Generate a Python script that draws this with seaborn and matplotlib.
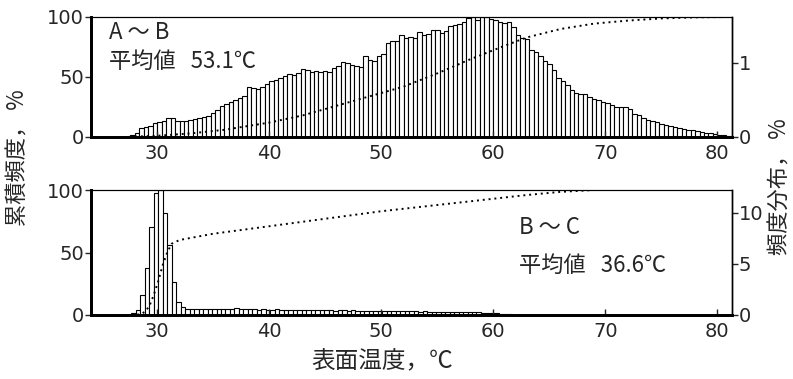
import numpy as np
import pandas as pd
import matplotlib
matplotlib.use("Agg")
import matplotlib.pyplot as plt
import seaborn as sns

sns.set_style("ticks")
plt.rcParams["font.family"] = ["DejaVu Sans"]
JP = ["Noto Sans CJK JP", "DejaVu Sans"]

# ---- A～B : frequency distribution (% per 0.4 °C bin) ----
ab_bin_start = 27.6
ab_bin_width = 0.4
ab_freq = [
    0.03, 0.06, 0.12, 0.14, 0.15, 0.19, 0.20, 0.22, 0.26, 0.25,
    0.22, 0.22, 0.22, 0.23, 0.24, 0.26, 0.27, 0.28, 0.33, 0.36,
    0.42, 0.45, 0.47, 0.50, 0.52, 0.56, 0.68, 0.66, 0.65, 0.67,
    0.72, 0.76, 0.77, 0.80, 0.82, 0.85, 0.84, 0.86, 0.92, 0.91,
    0.88, 0.89, 0.88, 0.89, 0.88, 0.93, 0.96, 1.01, 1.00, 0.97,
    0.96, 0.95, 1.10, 1.04, 1.03, 1.10, 1.12, 1.27, 1.30, 1.30,
    1.38, 1.34, 1.35, 1.33, 1.42, 1.38, 1.39, 1.45, 1.45, 1.41,
    1.43, 1.50, 1.51, 1.52, 1.55, 1.60, 1.62, 1.58, 1.62, 1.62,
    1.59, 1.58, 1.55, 1.54, 1.55, 1.48, 1.38, 1.33, 1.32, 1.17,
    1.15, 1.10, 1.02, 0.98, 0.90, 0.80, 0.76, 0.70, 0.63, 0.60,
    0.58, 0.58, 0.54, 0.51, 0.50, 0.47, 0.46, 0.43, 0.41, 0.41,
    0.41, 0.38, 0.31, 0.30, 0.25, 0.23, 0.22, 0.20, 0.17, 0.16,
    0.15, 0.13, 0.12, 0.11, 0.10, 0.09, 0.08, 0.07, 0.06, 0.05,
    0.04, 0.03, 0.03, 0.02,
]
# cumulative frequency (%)
ab_cum_temp = [27, 30, 33, 36, 40, 43, 46, 49, 52, 55, 58, 61, 63, 66, 69, 72, 75, 78, 81]
ab_cum_pct = [0, 1, 3, 6, 12, 18, 26, 34, 42, 53, 65, 76, 83, 90, 94.5, 97, 98.8, 99.7, 100]

# ---- B～C ----
bc_bin_start = 27.7
bc_bin_width = 0.4
bc_freq = [
    0.2, 0.5, 2.0, 4.6, 8.6, 12.0, 12.25, 10.0, 6.9, 3.2, 1.3, 0.8, 0.6,
    0.60, 0.55, 0.60, 0.60, 0.55, 0.60, 0.60, 0.55, 0.60, 0.60,
    0.65, 0.60, 0.55, 0.60, 0.55, 0.50, 0.55, 0.50, 0.50, 0.55,
    0.50, 0.50, 0.45, 0.50, 0.50, 0.45, 0.50, 0.45, 0.45, 0.50,
    0.45, 0.45, 0.40, 0.45, 0.45, 0.40, 0.45, 0.40, 0.40, 0.40,
    0.40, 0.40, 0.40, 0.35, 0.40, 0.35, 0.35, 0.35, 0.35, 0.35,
    0.35, 0.30, 0.35, 0.30, 0.30, 0.30, 0.30, 0.30, 0.30, 0.30,
    0.30, 0.25, 0.25, 0.25, 0.25, 0.20, 0.20, 0.15, 0.15, 0.10,
    0.10, 0.05,
]
bc_cum_temp = [27.7, 28.5, 28.9, 29.3, 29.7, 30.1, 30.5, 30.9, 31.3, 32, 35, 40, 45, 50, 55, 60, 63, 66, 69, 81]
bc_cum_pct = [0, 0.5, 2.5, 7, 16, 27, 40, 50, 57, 60, 65, 71, 77, 83, 88, 93, 96, 98.5, 100, 100]

x_ticks = [30, 40, 50, 60, 70, 80]
cum_ticks = [0, 50, 100]
ab_freq_ticks = [0, 1]
bc_freq_ticks = [0, 5, 10]
XLIM = (24.1, 81.3)

W, H = 793, 379
fig = plt.figure(figsize=(W / 100, H / 100), dpi=100)


def px_axes(left, top, right, bottom):
    return fig.add_axes([left / W, 1 - bottom / H, (right - left) / W, (bottom - top) / H])


def panel(ax, start, width, freq, cum_t, cum_p, fmax, fticks):
    hx = ax.twinx()
    n = len(freq)
    centers = start + width * (np.arange(n) + 0.5)
    df = pd.DataFrame({"temp": centers, "freq": freq})
    sns.histplot(data=df, x="temp", weights="freq", binwidth=width,
                 binrange=(start, start + n * width), ax=hx,
                 color="white", edgecolor="black", linewidth=0.8, alpha=1)
    cdf = pd.DataFrame({"temp": cum_t, "cum": cum_p})
    sns.lineplot(data=cdf, x="temp", y="cum", ax=ax, color="black",
                 linestyle=(0, (1, 2)), linewidth=1.4)
    ax.set_zorder(hx.get_zorder() + 1)
    ax.patch.set_visible(False)

    for a in (ax, hx):
        a.set_xlim(*XLIM)
        a.set_xlabel("")
        a.set_ylabel("")
    ax.set_ylim(0, 100)
    hx.set_ylim(0, fmax)
    ax.set_yticks(cum_ticks)
    hx.set_yticks(fticks)
    ax.set_xticks(x_ticks)
    ax.tick_params(axis="y", direction="out", length=4, width=1, labelsize=14, pad=1)
    hx.tick_params(axis="y", direction="out", length=4, width=1, labelsize=14, pad=1)
    ax.tick_params(axis="x", direction="in", length=4, width=1, labelsize=14, pad=5)
    for a in (ax, hx):
        for s in ("top", "right", "left", "bottom"):
            a.spines[s].set_visible(True)
            a.spines[s].set_color("black")
        a.spines["left"].set_linewidth(2)
        a.spines["bottom"].set_linewidth(2)
        a.spines["top"].set_linewidth(0.8)
        a.spines["right"].set_linewidth(1)
    return hx


ax_top = px_axes(91, 17, 732, 137)
panel(ax_top, ab_bin_start, ab_bin_width, ab_freq, ab_cum_temp, ab_cum_pct, 1.62, ab_freq_ticks)
ax_top.text(0.028, 0.87, "A ～ B", transform=ax_top.transAxes, fontsize=16,
            family=JP, ha="left", va="center")
ax_top.text(0.028, 0.63, "平均値   53.1℃", transform=ax_top.transAxes, fontsize=16,
            family=JP, ha="left", va="center")

ax_bot = px_axes(91, 190, 732, 315)
panel(ax_bot, bc_bin_start, bc_bin_width, bc_freq, bc_cum_temp, bc_cum_pct, 12.25, bc_freq_ticks)
ax_bot.text(0.667, 0.70, "B ～ C", transform=ax_bot.transAxes, fontsize=16,
            family=JP, ha="left", va="center")
ax_bot.text(0.667, 0.40, "平均値   36.6℃", transform=ax_bot.transAxes, fontsize=16,
            family=JP, ha="left", va="center")

fig.text(18 / W, 1 - 158 / H, "累積頻度， %", rotation=90, fontsize=16,
         family=JP, ha="center", va="center")
fig.text(780 / W, 1 - 187 / H, "頻度分布， %", rotation=90, fontsize=16,
         family=JP, ha="center", va="center")
fig.text(382 / W, 1 - 362 / H, "表面温度，℃", fontsize=17,
         family=JP, ha="center", va="center")

fig.savefig("out.png", dpi=100)
